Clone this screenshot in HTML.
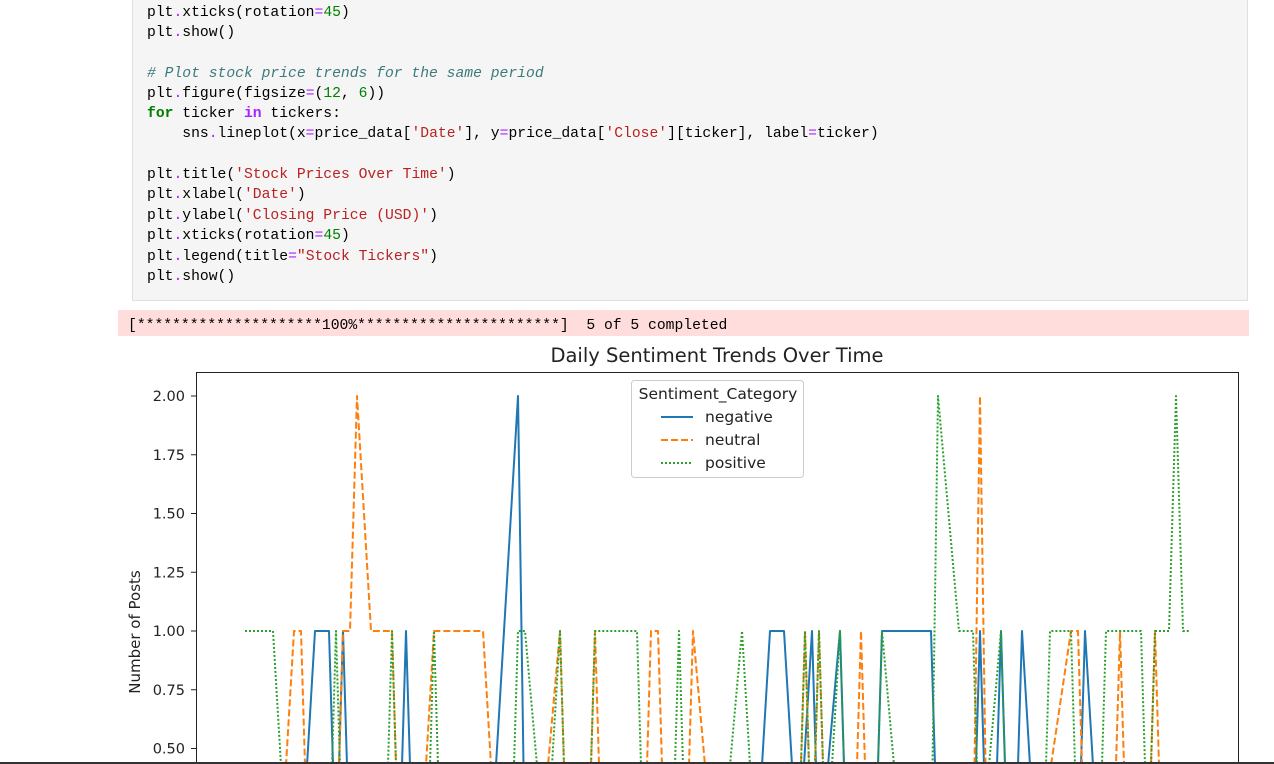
<!DOCTYPE html>
<html><head><meta charset="utf-8">
<style>
body{margin:0;width:1274px;height:764px;overflow:hidden;background:#fff;position:relative;font-family:"Liberation Sans",sans-serif}
#code{position:absolute;left:132px;top:-2px;width:1116px;height:303px;background:#f5f5f5;border:1px solid #e0e0e0;box-sizing:border-box}
.ln{position:absolute;left:14px;font-family:"Liberation Mono",monospace;font-size:14.7px;white-space:pre;color:#000;line-height:18px}
.s{color:#ba2121}.n{color:#008000}.o{color:#aa22ff}.k{color:#008000;font-weight:bold}.kp{color:#aa22ff;font-weight:bold}.c{color:#3d7b7b;font-style:italic}
#err{position:absolute;left:118px;top:310px;width:1131px;height:26px;background:#fdd}
#err span{position:absolute;left:10px;top:8px;font-family:"Liberation Mono",monospace;font-size:14.7px;white-space:pre}
svg{overflow:hidden}
</style></head><body>
<div id="code">
<div class="ln" style="top:5px">plt<span class="o">.</span>xticks(rotation<span class="o">=</span><span class="n">45</span>)</div>
<div class="ln" style="top:25px">plt<span class="o">.</span>show()</div>
<div class="ln" style="top:66px"><span class="c"># Plot stock price trends for the same period</span></div>
<div class="ln" style="top:86px">plt<span class="o">.</span>figure(figsize<span class="o">=</span>(<span class="n">12</span>, <span class="n">6</span>))</div>
<div class="ln" style="top:106px"><span class="k">for</span> ticker <span class="kp">in</span> tickers:</div>
<div class="ln" style="top:126px">    sns<span class="o">.</span>lineplot(x<span class="o">=</span>price_data[<span class="s">'Date'</span>], y<span class="o">=</span>price_data[<span class="s">'Close'</span>][ticker], label<span class="o">=</span>ticker)</div>
<div class="ln" style="top:167px">plt<span class="o">.</span>title(<span class="s">'Stock Prices Over Time'</span>)</div>
<div class="ln" style="top:187px">plt<span class="o">.</span>xlabel(<span class="s">'Date'</span>)</div>
<div class="ln" style="top:208px">plt<span class="o">.</span>ylabel(<span class="s">'Closing Price (USD)'</span>)</div>
<div class="ln" style="top:228px">plt<span class="o">.</span>xticks(rotation<span class="o">=</span><span class="n">45</span>)</div>
<div class="ln" style="top:249px">plt<span class="o">.</span>legend(title<span class="o">=</span><span class="s">"Stock Tickers"</span>)</div>
<div class="ln" style="top:269px">plt<span class="o">.</span>show()</div>
</div>
<div id="err"><span>[*********************100%***********************]  5 of 5 completed</span></div>
<svg id="chart" width="1274" height="764" style="position:absolute;left:0;top:0"></svg>
<script>
const negDays=[8,10,12,13,14,15,22,23,24,35,39,40,73,75,77,79,81,82,85,86,90,91,98,99,104,105,106,107,108,109,110,111,113,119,120,122];
const negVals=[0,1,1,0,1,0,0,1,0,0,2,0,0,1,1,0,1,0,1,0,0,1,1,0,0,1,0,0,1,0,0,1,0,0,1,0];
const neuDays=[5,7,8,9,13,14,15,16,18,21,22,25,27,34,36,42,45,46,49,50,51,57,58,59,60,63,64,67,79,80,81,82,83,87,88,89,104,105,106,113,118,119,120,124,125,126,129,130,131];
const neuVals=[0,1,1,0,0,1,1,2,1,1,0,0,1,1,0,0,1,0,0,1,0,0,1,1,0,0,1,0,0,1,0,1,0,0,1,0,0,2,0,0,1,1,0,0,1,0,0,1,0];
const posDays=[0,4,6,12,13,14,20,21,22,26,27,28,38,39,40,43,45,46,49,50,56,57,61,62,63,68,71,73,79,80,81,82,83,85,86,90,91,94,98,99,102,104,105,108,109,114,115,118,119,122,123,128,129,130,132,133,134,135];
const posVals=[1,1,0,0,1,0,0,1,0,0,1,0,0,1,1,0,1,0,0,1,1,0,0,1,0,0,1,0,0,1,0,1,0,1,0,0,1,0,0,2,1,1,0,1,0,0,1,1,0,0,1,1,0,1,1,2,1,1];
const yTicks=[2.00,1.75,1.50,1.25,1.00,0.75,0.50];
const NS="http://www.w3.org/2000/svg";
const svg=document.getElementById('chart');
const L=196,R=1239,T=372,B=764;
const FF='DejaVu Sans, Liberation Sans, sans-serif';
const x=d=>245+d*7;
const y=v=>631-(v-1)*235;
function mk(t,a){const e=document.createElementNS(NS,t);for(const k in a)e.setAttribute(k,a[k]);svg.appendChild(e);return e;}
const clip=mk('clipPath',{id:'cp'});
const cr=document.createElementNS(NS,'rect');cr.setAttribute('x',L);cr.setAttribute('y',T);cr.setAttribute('width',R-L);cr.setAttribute('height',B-T);clip.appendChild(cr);
const bg=mk('rect',{x:L,y:T,width:R-L,height:B-T,fill:'#fff'});


function series(days,vals,color,dash,name){
  const p=mk('polyline',{points:days.map((d,i)=>x(d)+','+y(vals[i])).join(' '),fill:'none',stroke:color,'stroke-width':2,'stroke-dasharray':dash,'clip-path':'url(#cp)','stroke-linejoin':'round'});
  
  
}
series(negDays,negVals,'#1f77b4','none','line-negative');
series(neuDays,neuVals,'#ff7f0e','7,3','line-neutral');
series(posDays,posVals,'#2ca02c','2,2','line-positive');
const fr=mk('path',{d:`M${L+0.5},${B} V${T+0.5} H${R-0.5} V${B}`,fill:'none',stroke:'#222','stroke-width':1});


yTicks.forEach(v=>{
  const tk=mk('line',{x1:L-5,x2:L,y1:y(v),y2:y(v),stroke:'#222'});
  
  
  const t=mk('text',{x:L-11,y:y(v)+5,'text-anchor':'end','font-size':14.5,fill:'#222','font-family':FF});
  t.textContent=v.toFixed(2);
  
  
});
const ttl=mk('text',{x:717,y:362,'text-anchor':'middle','font-size':19.5,fill:'#222','font-family':FF});
ttl.textContent='Daily Sentiment Trends Over Time';


const yl=mk('text',{x:140,y:632,'text-anchor':'middle','font-size':15,fill:'#222',transform:'rotate(-90 140 632)','font-family':FF});
yl.textContent='Number of Posts';


const lg=mk('rect',{x:631.5,y:380.5,width:172,height:97,rx:3,fill:'#fff','fill-opacity':0.85,stroke:'#ccc'});


const lt=mk('text',{x:718,y:399,'text-anchor':'middle','font-size':15.5,fill:'#222','font-family':FF});
lt.textContent='Sentiment_Category';


[['negative','#1f77b4','none',417],['neutral','#ff7f0e','7,3',440],['positive','#2ca02c','2,2',463]].forEach(e=>{
  const l=mk('line',{x1:661,x2:693,y1:e[3],y2:e[3],stroke:e[1],'stroke-width':2,'stroke-dasharray':e[2]});
  
  
  const t=mk('text',{x:705,y:e[3]+5,'font-size':15.5,fill:'#222','font-family':FF});
  t.textContent=e[0];
  
  
});
const bl=mk('rect',{x:0,y:762,width:1274,height:2,fill:'#333'});


</script>
</body></html>
